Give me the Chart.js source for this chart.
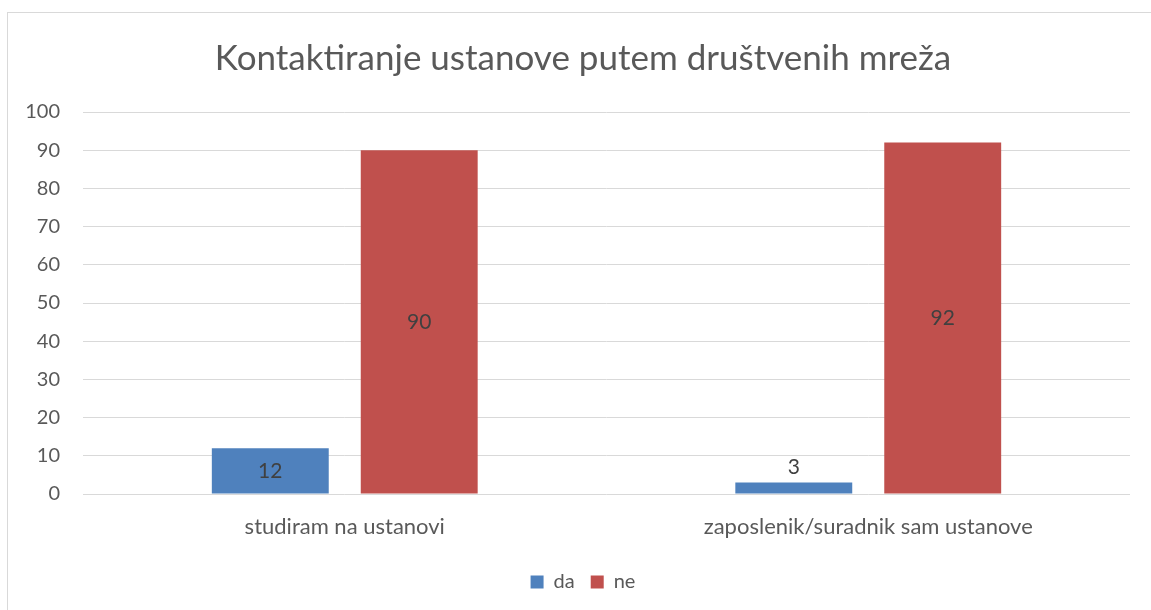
<!DOCTYPE html>
<html>
<head>
<meta charset="utf-8">
<script src="https://cdn.jsdelivr.net/npm/chart.js@4/dist/chart.umd.min.js"></script>
<style>
  html, body { margin: 0; padding: 0; background: #fff; }
  #wrap { width: 1151px; height: 610px; position: relative; }
</style>
</head>
<body>
<div id="wrap"><canvas id="c"></canvas></div>
<script>
const titleText = 'Kontaktiranje ustanove putem društvenih mreža';
const categories = ['studiram na ustanovi', 'zaposlenik/suradnik sam ustanove'];
const seriesNames = ['da', 'ne'];
const daValues = [12, 3];
const neValues = [90, 92];
const yMin = 0, yMax = 100, yStep = 10;

const FONT = 'Lato, "Open Sans", sans-serif';
const TEXT = '#595959';

// outer frame of the chart
const framePlugin = {
  id: 'frame',
  beforeDraw(chart) {
    const ctx = chart.ctx;
    ctx.save();
    ctx.fillStyle = '#fff';
    ctx.fillRect(0, 0, chart.width, chart.height);
    ctx.strokeStyle = '#d9d9d9';
    ctx.lineWidth = 1;
    ctx.strokeRect(7.5, 12.5, chart.width + 20, chart.height + 20);
    ctx.restore();
  }
};

// value labels: centred inside tall bars, just above short ones
const valueLabels = {
  id: 'valueLabels',
  afterDatasetsDraw(chart) {
    const ctx = chart.ctx;
    ctx.save();
    ctx.font = '21px ' + FONT;
    ctx.fillStyle = '#404040';
    ctx.textAlign = 'center';
    ctx.textBaseline = 'middle';
    chart.data.datasets.forEach((ds, di) => {
      chart.getDatasetMeta(di).data.forEach((bar, i) => {
        const h = bar.base - bar.y;
        const y = h > 30 ? (bar.y + bar.base) / 2 : bar.y - 15;
        ctx.fillText(String(ds.data[i]), bar.x, y);
      });
    });
    ctx.restore();
  }
};

new Chart(document.getElementById('c'), {
  type: 'bar',
  data: {
    labels: categories,
    datasets: [
      { label: seriesNames[0], data: daValues, backgroundColor: '#4f81bd' },
      { label: seriesNames[1], data: neValues, backgroundColor: '#c0504d' }
    ]
  },
  options: {
    responsive: true,
    maintainAspectRatio: false,
    animation: false,
    categoryPercentage: 0.569,
    barPercentage: 0.785,
    layout: { padding: { left: 15, right: 0, top: 10, bottom: 8 } },
    plugins: {
      title: {
        display: true,
        text: titleText,
        color: TEXT,
        font: { family: FONT, size: 35, weight: 'normal' },
        padding: { top: 28, bottom: 32 }
      },
      legend: {
        position: 'bottom',
        labels: {
          color: TEXT,
          font: { family: FONT, size: 20 },
          boxWidth: 13,
          boxHeight: 13,
          padding: 16
        }
      },
      tooltip: { enabled: false }
    },
    scales: {
      x: {
        grid: { display: false, drawTicks: false },
        border: { display: false },
        ticks: { color: TEXT, font: { family: FONT, size: 22 }, padding: 20 },
        afterFit(scale) { scale.height = 62; }
      },
      y: {
        min: yMin, max: yMax,
        ticks: { stepSize: yStep, color: TEXT, font: { family: FONT, size: 20 }, padding: 23 },
        grid: { color: '#d9d9d9', drawTicks: false, lineWidth: 1 },
        border: { display: false },
        afterFit(scale) { scale.width = 68; }
      },
      // empty right-hand margin strip beside the plot
      yRight: {
        position: 'right',
        display: true,
        ticks: { display: false },
        grid: { display: false, drawTicks: false },
        border: { display: false },
        afterFit(scale) { scale.width = 21; }
      }
    }
  },
  plugins: [framePlugin, valueLabels]
});
</script>
</body>
</html>
